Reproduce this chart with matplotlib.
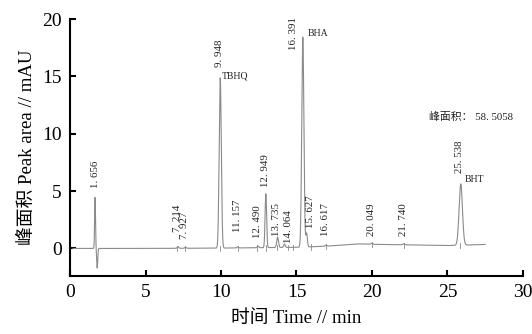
import numpy as np
import matplotlib
matplotlib.use('Agg')
from matplotlib import pyplot as plt

plt.rcParams['font.family'] = ['Liberation Serif', 'Noto Sans CJK SC']

# peaks: centre (min), height (mAU), width (min)
peak_t = [1.66, 7.15, 7.65, 9.95, 11.1, 12.45, 12.97, 13.75, 14.2, 15.42, 15.67, 16.95, 20.0, 22.1, 25.88]
peak_h = [4.45, 0.15, 0.1, 14.85, 0.1, 0.15, 4.7, 0.9, 0.3, 18.3, 1.2, 0.1, 0.1, 0.1, 5.35]
peak_w = [0.03, 0.05, 0.05, 0.07, 0.05, 0.05, 0.05, 0.06, 0.05, 0.07, 0.05, 0.05, 0.05, 0.05, 0.11]

# negative dip right after the injection peak
dip_t = [1.8]
dip_h = [-1.7]
dip_w = [0.035]

# baseline drift
base_t = [0.2, 5.0, 10.0, 15.0, 17.0, 19.0, 20.5, 23.0, 25.0, 27.5]
base_y = [0.0, 0.0, 0.03, 0.1, 0.2, 0.4, 0.35, 0.3, 0.25, 0.35]

# annotations: text, x, y (bottom of rotated text)
lab_text = ['1. 656', '7. 214', '7. 927', '9. 948', '11. 157', '12. 490', '12. 949', '13. 735',
            '14. 064', '16. 391', '15. 627', '16. 617', '20. 049', '21. 740', '25. 538']
lab_x = [1.66, 7.1, 7.6, 9.93, 11.1, 12.4, 12.97, 13.7, 14.45, 14.8, 15.96, 16.95, 20.0, 22.1, 25.83]
lab_y = [5.3, 1.4, 0.8, 15.8, 1.4, 0.95, 5.35, 1.05, 0.5, 17.3, 1.8, 1.1, 1.1, 1.05, 6.6]

names = ['TBHQ', 'BHA', 'BHT']
name_x = [10.07, 15.75, 26.15]
name_y = [15.0, 18.7, 6.0]

t = np.linspace(0.2, 27.5, 6000)
y = np.interp(t, base_t, base_y)
for c, h, w in zip(peak_t + dip_t, peak_h + dip_h, peak_w + dip_w):
    y = y + h * np.exp(-0.5 * ((t - c) / w) ** 2)

fig = plt.figure(figsize=(5.32, 3.34), dpi=100)
ax = fig.add_axes([0.1316, 0.1737, 0.8514, 0.7693])
ax.plot(t, y, color='#8a8a8a', lw=0.8)

# small integration marks on the trace
for c in lab_x[1:]:
    b = np.interp(c, base_t, base_y)
    ax.plot([c, c], [b - 0.25, b + 0.2], color='#8a8a8a', lw=0.6)

for s, x, yy in zip(lab_text, lab_x, lab_y):
    ax.text(x, yy, s, rotation=90, ha='center', va='bottom', fontsize=7.8, color='#222222')
for s, x, yy in zip(names, name_x, name_y):
    ax.text(x, yy, s, ha='left', va='center', fontsize=7, color='#222222')
ax.text(23.8, 11.5, '峰面积： 58. 5058', ha='left', va='center', fontsize=7.8, color='#222222')

ax.set_xlim(0, 30)
ax.set_ylim(-2.4, 20)
ax.set_xticks([0, 5, 10, 15, 20, 25, 30])
ax.set_yticks([0, 5, 10, 15, 20])
ax.spines['top'].set_visible(False)
ax.spines['right'].set_visible(False)
for sp in ['left', 'bottom']:
    ax.spines[sp].set_linewidth(1.5)
ax.tick_params(direction='in', length=4, width=1.5, labelsize=14, pad=6)
ax.set_xlabel('时间 Time // min', fontsize=13.5, labelpad=6)
ax.set_ylabel('峰面积 Peak area // mAU', fontsize=13.5, labelpad=4)

fig.savefig('out.png', dpi=100)
